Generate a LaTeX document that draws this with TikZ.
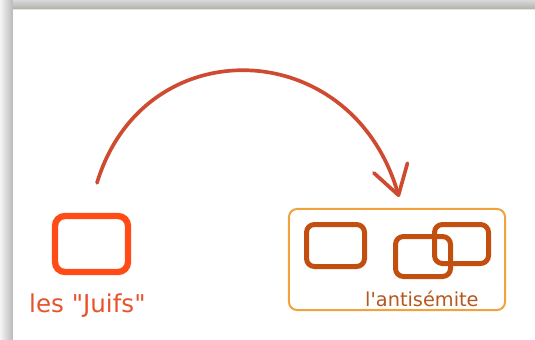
\documentclass[tikz,border=0pt]{standalone}
\usepackage{fontspec}
\setmainfont{DejaVu Sans}
\usetikzlibrary{arrows.meta,calc}

\definecolor{juifred}{HTML}{FF4B16}
\definecolor{juiftxt}{HTML}{E8532E}
\definecolor{arcred}{HTML}{CE4A30}
\definecolor{groupline}{HTML}{F0A33C}
\definecolor{brownbox}{HTML}{C24F10}
\definecolor{browntxt}{HTML}{B5571E}
\definecolor{paperline}{HTML}{EDE6D2}

\begin{document}
\begin{tikzpicture}[x=0.03cm, y=-0.03cm,
    juifbox/.style={draw=juifred, line width=0.19cm, rounded corners=0.3cm,
        minimum width=2.19cm, minimum height=1.68cm, inner sep=0pt},
    groupbox/.style={draw=groupline, line width=0.06cm, rounded corners=0.24cm,
        minimum width=6.48cm, minimum height=3.03cm, inner sep=0pt},
    smallbox/.style={draw=brownbox, line width=0.15cm, rounded corners=0.24cm, inner sep=0pt},
    bigarc/.style={draw=arcred, line width=0.11cm, line cap=round,
        -{Straight Barb[length=0.85cm, width=1.05cm, round]}}
]
    \useasboundingbox (0,0) rectangle (535,340);

    % Window shadow
    \shade[left color=gray!8, right color=gray!55] (0,0) rectangle (13,340);
    \shade[top color=gray!30, bottom color=gray!62] (13,0) rectangle (535,9);
    \fill[white] (13,9) rectangle (535,340);
    \draw[paperline, line width=0.04cm] (13,9.6) -- (535,9.6);

    % Left: one box
    \node[juifbox] (juifs) at (91.5,244) {};
    \node[font=\fontsize{21pt}{24pt}\selectfont, text=juiftxt, anchor=base west, inner sep=0pt]
        (juiflabel) at (29,312) {les \textquotedbl Juifs\textquotedbl};

    % Right: group of boxes
    \node[groupbox] (groupe) at (397,259.5) {};
    \foreach \name/\cx/\cy/\w/\h in {
        one/335.5/245.5/1.74/1.26,
        three/461.5/244/1.62/1.17,
        two/423/256.5/1.65/1.2
    } {
        \node[smallbox, minimum width=\w cm, minimum height=\h cm] (\name) at (\cx,\cy) {};
    }
    \node[font=\fontsize{16.5pt}{20pt}\selectfont, text=browntxt, anchor=base west, inner sep=0pt]
        (grouplabel) at (365,306) {l\textquotesingle antisémite};

    % Arc between the two
    \draw[bigarc] ($(juifs.north)+(5.5,-30)$)
        .. controls (144,28) and (352,34) .. ($(groupe.north)+(2,-11)$);
\end{tikzpicture}
\end{document}
